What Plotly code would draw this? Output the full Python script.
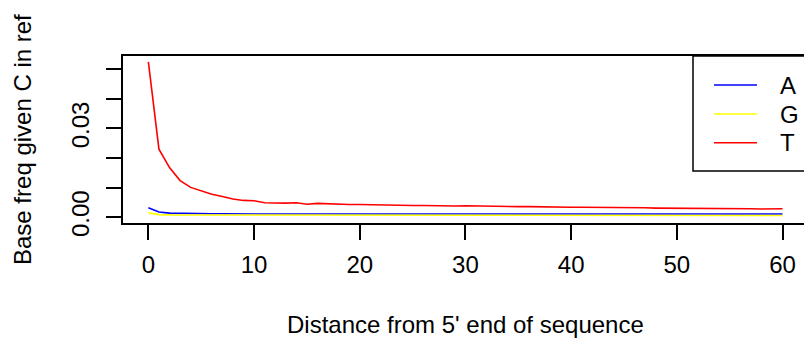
import plotly.graph_objects as go

positions = list(range(61))
series_names = ["A", "G", "T"]
series_colors = ["#0000FF", "#FFFF00", "#FF0000"]

freq_A = [0.0032, 0.0018, 0.0014, 0.0013, 0.0013, 0.0013, 0.0012, 0.0012, 0.0011, 0.0011,
          0.0011, 0.0011, 0.0012, 0.0011, 0.0011, 0.0011, 0.0011, 0.0011, 0.0011, 0.0011,
          0.0011, 0.0011, 0.0011, 0.0012, 0.0010, 0.0011, 0.0011, 0.0010, 0.0011, 0.0011,
          0.0011, 0.0011, 0.0011, 0.0011, 0.0011, 0.0011, 0.0011, 0.0011, 0.0010, 0.0010,
          0.0011, 0.0011, 0.0011, 0.0011, 0.0011, 0.0011, 0.0010, 0.0011, 0.0011, 0.0011,
          0.0011, 0.0011, 0.0011, 0.0011, 0.0011, 0.0011, 0.0011, 0.0011, 0.0011, 0.0011,
          0.0011]
freq_G = [0.0015, 0.0009, 0.0008, 0.0008, 0.0007, 0.0007, 0.0007, 0.0007, 0.0006, 0.0006,
          0.0006, 0.0006, 0.0006, 0.0006, 0.0006, 0.0006, 0.0006, 0.0006, 0.0006, 0.0006,
          0.0006, 0.0006, 0.0006, 0.0006, 0.0006, 0.0006, 0.0006, 0.0006, 0.0006, 0.0006,
          0.0006, 0.0006, 0.0006, 0.0006, 0.0006, 0.0006, 0.0006, 0.0006, 0.0006, 0.0006,
          0.0006, 0.0006, 0.0006, 0.0006, 0.0006, 0.0006, 0.0006, 0.0006, 0.0006, 0.0006,
          0.0006, 0.0006, 0.0006, 0.0006, 0.0006, 0.0006, 0.0006, 0.0006, 0.0006, 0.0006,
          0.0006]
freq_T = [0.0525, 0.0230, 0.0168, 0.0124, 0.0101, 0.0090, 0.0078, 0.0070, 0.0062, 0.0057,
          0.0056, 0.0049, 0.0048, 0.0048, 0.0049, 0.0044, 0.0047, 0.0045, 0.0044, 0.0043,
          0.0043, 0.0042, 0.0043, 0.0042, 0.0040, 0.0040, 0.0040, 0.0039, 0.0038, 0.0038,
          0.0039, 0.0038, 0.0037, 0.0037, 0.0037, 0.0036, 0.0036, 0.0035, 0.0035, 0.0034,
          0.0034, 0.0034, 0.0034, 0.0033, 0.0033, 0.0033, 0.0032, 0.0032, 0.0031, 0.0031,
          0.0030, 0.0030, 0.0030, 0.0030, 0.0030, 0.0030, 0.0029, 0.0029, 0.0028, 0.0028,
          0.0029]
series_values = [freq_A, freq_G, freq_T]

x_ticks = [0, 10, 20, 30, 40, 50, 60]
y_ticks = [0.0, 0.01, 0.02, 0.03, 0.04, 0.05]
y_tick_text = ["0.00", "", "", "0.03", "", ""]

x_title = "Distance from 5' end of sequence"
y_title = "Base freq given C in ref"

FONT = "Liberation Sans, Arial, Helvetica, sans-serif"
FS = 24

fig = go.Figure()
for name, color, vals in zip(series_names, series_colors, series_values):
    fig.add_trace(go.Scatter(x=positions, y=vals, mode="lines", name=name,
                             line=dict(color=color, width=1.6), showlegend=False))

# plot area: x 123..804, y 56..223 (pixels)
L, T, W, H = 123, 56, 681, 167
def px(x):
    return (x - L) / W
def py(y):
    return (T + H - y) / H

shapes = [dict(type="rect", xref="paper", yref="paper", x0=px(693), x1=px(830),
               y0=py(171), y1=py(56), line=dict(color="black", width=1.5))]
annotations = []
rows_y = [85, 114, 142.7]
for name, color, ry in zip(series_names, series_colors, rows_y):
    shapes.append(dict(type="line", xref="paper", yref="paper", x0=px(714), x1=px(757),
                       y0=py(ry), y1=py(ry), line=dict(color=color, width=1.6)))
    annotations.append(dict(text=name, xref="paper", yref="paper", x=px(778), y=py(ry),
                            xanchor="left", yanchor="middle", showarrow=False,
                            font=dict(family=FONT, size=FS, color="black")))

annotations.append(dict(text=x_title, xref="paper", yref="paper", x=px(465.5), y=py(324),
                        xanchor="center", yanchor="middle", showarrow=False,
                        font=dict(family=FONT, size=FS, color="black")))
annotations.append(dict(text=y_title, xref="paper", yref="paper", x=px(22), y=py(140),
                        xanchor="center", yanchor="middle", showarrow=False, textangle=-90,
                        font=dict(family=FONT, size=FS, color="black")))

fig.update_layout(
    width=804, height=338,
    margin=dict(l=L, r=0, t=T, b=338 - T - H, pad=0),
    paper_bgcolor="white", plot_bgcolor="white",
    font=dict(family=FONT, size=FS, color="black"),
    shapes=shapes, annotations=annotations,
    xaxis=dict(range=[-2.4, 62.03], tickvals=x_ticks, ticks="outside", ticklen=15,
               tickwidth=1.5, tickcolor="black", showline=True, linecolor="black",
               linewidth=1.5, mirror=True, showgrid=False, zeroline=False,
               ticklabelstandoff=4,
               tickfont=dict(family=FONT, size=FS, color="black")),
    yaxis=dict(range=[-0.00193, 0.05449], tickvals=y_ticks, ticktext=y_tick_text,
               ticks="outside", ticklen=15, tickwidth=1.5, tickcolor="black",
               showline=True, linecolor="black", linewidth=1.5, mirror=False,
               showgrid=False, zeroline=False, tickangle=-90, ticklabelstandoff=8,
               tickfont=dict(family=FONT, size=FS, color="black")),
)

fig.write_html("out.html")
